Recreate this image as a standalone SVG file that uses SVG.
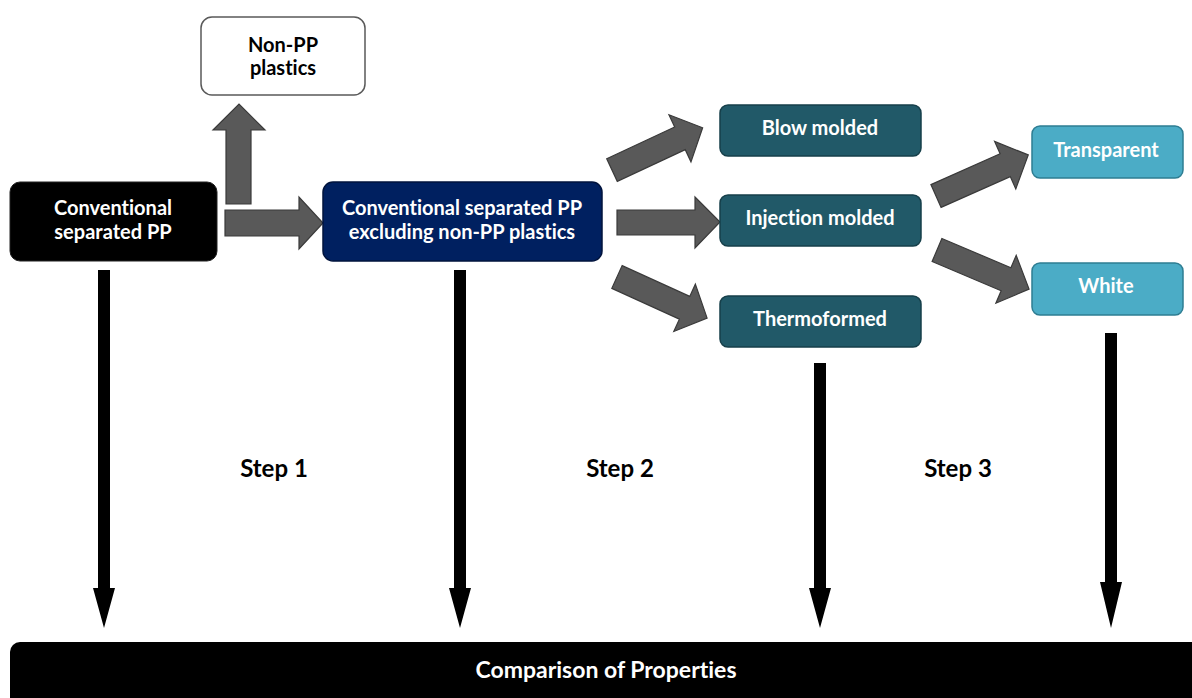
<svg xmlns="http://www.w3.org/2000/svg" width="1192" height="698" viewBox="0 0 1192 698">
<defs>
<style>
.t{font-family:Lato,"Liberation Sans",sans-serif;font-weight:bold;font-size:20px;text-anchor:middle;fill:#fff;font-variant-ligatures:none}
.tk{fill:#000}
.step{font-family:Lato,"Liberation Sans",sans-serif;font-weight:bold;font-size:24px;text-anchor:middle;fill:#000}
.ga{fill:#595959;stroke:#3a3a3a;stroke-width:1.2}
.ba{fill:#000}
.teal{fill:#215968;stroke:#163f4a;stroke-width:1.5}
.cyan{fill:#4bacc6;stroke:#2e7d92;stroke-width:1.5}
</style>
<path id="blk" d="M0,-12.5 L75,-12.5 L75,-26 L100,0 L75,26 L75,12.5 L0,12.5 Z"/>
</defs>
<rect width="1192" height="698" fill="#fff"/>
<g id="connectors">
<path class="ga" d="M226,204 L226,130 L213,130 L239,104 L265,130 L251,130 L251,204 Z"/>
<path class="ga" d="M225,210 L299,210 L299,197 L323,223 L299,249 L299,236 L225,236 Z"/>
<path class="ga" d="M617,210 L695,210 L695,197 L720,222 L695,248 L695,235 L617,235 Z"/>
<use href="#blk" class="ga" transform="translate(612,170) rotate(-25)"/>
<use href="#blk" class="ga" transform="translate(617,277) rotate(24.5) scale(0.99,1)"/>
<use href="#blk" class="ga" transform="translate(936,196) rotate(-24) scale(1.01,1)"/>
<use href="#blk" class="ga" transform="translate(937,250) rotate(23)"/>
<path class="ba" d="M98,270 L110,270 L110,588 L115,588 L104,628 L93,588 L98,588 Z"/>
<path class="ba" d="M454,270 L466,270 L466,588 L471,588 L460,628 L449,588 L454,588 Z"/>
<path class="ba" d="M814,363 L826,363 L826,588 L831,588 L820,628 L809,588 L814,588 Z"/>
<path class="ba" d="M1105,333 L1117,333 L1117,582 L1122,582 L1111,628 L1100,582 L1105,582 Z"/>
</g>
<g id="nonpp">
<rect x="201" y="17" width="164" height="78" rx="11" fill="#fff" stroke="#595959" stroke-width="1.5"/>
<text class="t tk" x="283" y="52">Non-PP</text>
<text class="t tk" x="283" y="75">plastics</text>
</g>
<g id="conv">
<rect x="10" y="182" width="207" height="79" rx="10" fill="#000" stroke="#222" stroke-width="1"/>
<text class="t" x="113" y="215">Conventional</text>
<text class="t" x="113" y="239">separated PP</text>
</g>
<g id="convx">
<rect x="323" y="182" width="279" height="79" rx="10" fill="#002060" stroke="#00133d" stroke-width="1.5"/>
<text class="t" x="462" y="215">Conventional separated PP</text>
<text class="t" x="462" y="239">excluding non-PP plastics</text>
</g>
<g id="blow">
<rect class="teal" x="720" y="105" width="201" height="51" rx="8"/>
<text class="t" x="820" y="135">Blow molded</text>
</g>
<g id="inj">
<rect class="teal" x="720" y="195" width="201" height="51" rx="8"/>
<text class="t" x="820" y="225">Injection molded</text>
</g>
<g id="thermo">
<rect class="teal" x="720" y="296" width="201" height="51" rx="8"/>
<text class="t" x="820" y="326">Thermoformed</text>
</g>
<g id="transparent">
<rect class="cyan" x="1032" y="126" width="151" height="52" rx="8"/>
<text class="t" x="1106" y="157">Transparent</text>
</g>
<g id="white">
<rect class="cyan" x="1032" y="263" width="151" height="52" rx="8"/>
<text class="t" x="1106" y="293">White</text>
</g>
<g id="steps">
<text class="step" x="274" y="477">Step 1</text>
<text class="step" x="620" y="477">Step 2</text>
<text class="step" x="958" y="477">Step 3</text>
</g>
<g id="comparison">
<rect x="10" y="642" width="1200" height="80" rx="10" fill="#000"/>
<text class="t" x="606" y="678" style="font-size:23px">Comparison of Properties</text>
</g>
</svg>
